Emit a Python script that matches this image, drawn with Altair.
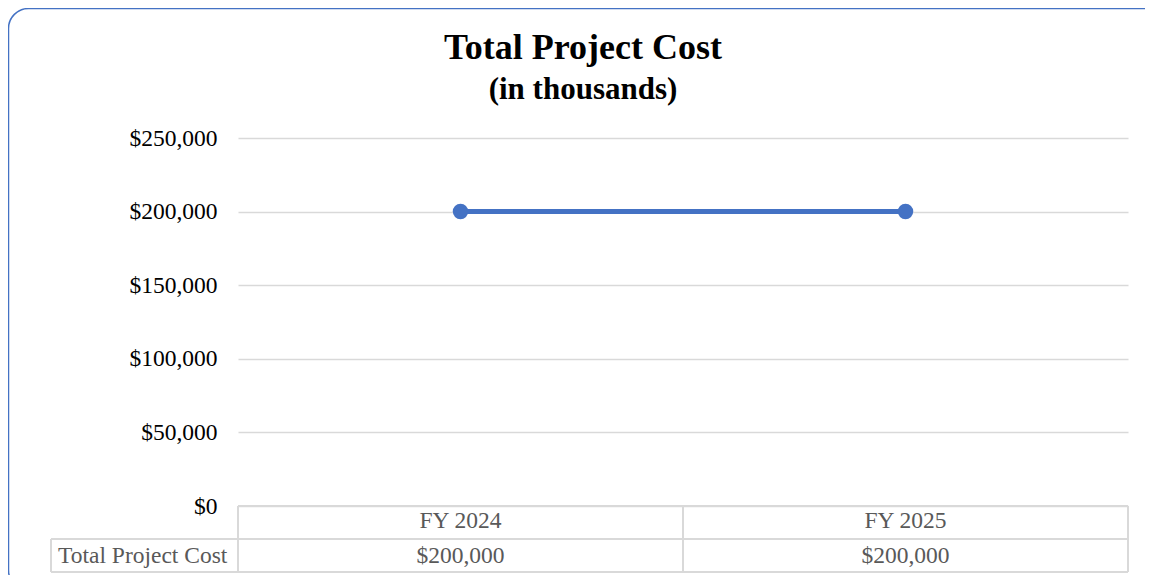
import altair as alt
import pandas as pd

# ---- data ----
categories = ["FY 2024", "FY 2025"]
costs = [200000, 200000]
table_labels = ["$200,000", "$200,000"]
y_ticks = [0, 50000, 100000, 150000, 200000, 250000]
series_name = "Total Project Cost"
title_text = "Total Project Cost"
subtitle_text = "(in thousands)"

df = pd.DataFrame({"Year": categories, "Cost": costs, "Label": table_labels})
one = pd.DataFrame({"a": [0]})

FONT = "Liberation Serif"
BLUE = "#4472C4"
GRID = "#d9d9d9"
TXT = "#595959"
FS = 23.5

W, H = 890, 368

x_enc = alt.X("Year:N", sort=categories,
              scale=alt.Scale(type="point", padding=0.5), axis=None)
y_enc = alt.Y("Cost:Q", scale=alt.Scale(domain=[0, 250000], nice=False),
              axis=alt.Axis(values=y_ticks, format="$,.0f", grid=True,
                            gridColor=GRID, gridWidth=1.5, domain=False,
                            ticks=False, labelFont=FONT, labelFontSize=FS,
                            labelColor="#000000", labelPadding=21, title=None))

frame = alt.Chart(one).mark_rect(filled=False, stroke=BLUE, strokeWidth=1.5,
                                 cornerRadius=20).encode(
    x=alt.value(-229.5), x2=alt.value(925), y=alt.value(-129.5), y2=alt.value(452))

line = alt.Chart(df).mark_line(color=BLUE, strokeWidth=5).encode(x=x_enc, y=y_enc)
points = alt.Chart(df).mark_circle(color=BLUE, size=240, opacity=1).encode(
    x=x_enc, y="Cost:Q")


def rule(x1, x2, y1, y2):
    return alt.Chart(one).mark_rule(color=GRID, strokeWidth=2).encode(
        x=alt.value(x1), x2=alt.value(x2), y=alt.value(y1), y2=alt.value(y2))


rules = [
    rule(0, W, 368, 368),
    rule(-187, W, 401, 401),
    rule(-187, W, 434, 434),
    rule(0, 0, 368, 434),
    rule(W / 2, W / 2, 368, 434),
    rule(W, W, 368, 434),
    rule(-187, -187, 401, 434),
]

header = alt.Chart(df).mark_text(font=FONT, fontSize=FS, color=TXT,
                                 baseline="middle").encode(
    x=x_enc, y=alt.value(383), text="Year:N")
values = alt.Chart(df).mark_text(font=FONT, fontSize=FS, color=TXT,
                                 baseline="middle").encode(
    x=x_enc, y=alt.value(418), text="Label:N")
row_label = alt.Chart(pd.DataFrame({"t": [series_name]})).mark_text(
    font=FONT, fontSize=FS, color=TXT, align="left", baseline="middle").encode(
    x=alt.value(-180), y=alt.value(418), text="t:N")

title = alt.Chart(pd.DataFrame({"t": [title_text]})).mark_text(
    font=FONT, fontSize=36, fontWeight="bold", color="#000000",
    align="center", baseline="middle").encode(
    x=alt.value(345), y=alt.value(-90), text="t:N")
subtitle = alt.Chart(pd.DataFrame({"t": [subtitle_text]})).mark_text(
    font=FONT, fontSize=31, fontWeight="bold", color="#000000",
    align="center", baseline="middle").encode(
    x=alt.value(345), y=alt.value(-48), text="t:N")

chart = alt.layer(frame, *rules, line, points, header, values, row_label,
                  title, subtitle).properties(
    width=W, height=H,
    autosize=alt.AutoSizeParams(type="none"),
    padding={"left": 230, "top": 130, "right": 17, "bottom": 69},
    background="white",
).configure_view(stroke=None)

chart.save("out.html", embed_options={"renderer": "svg", "actions": False})
